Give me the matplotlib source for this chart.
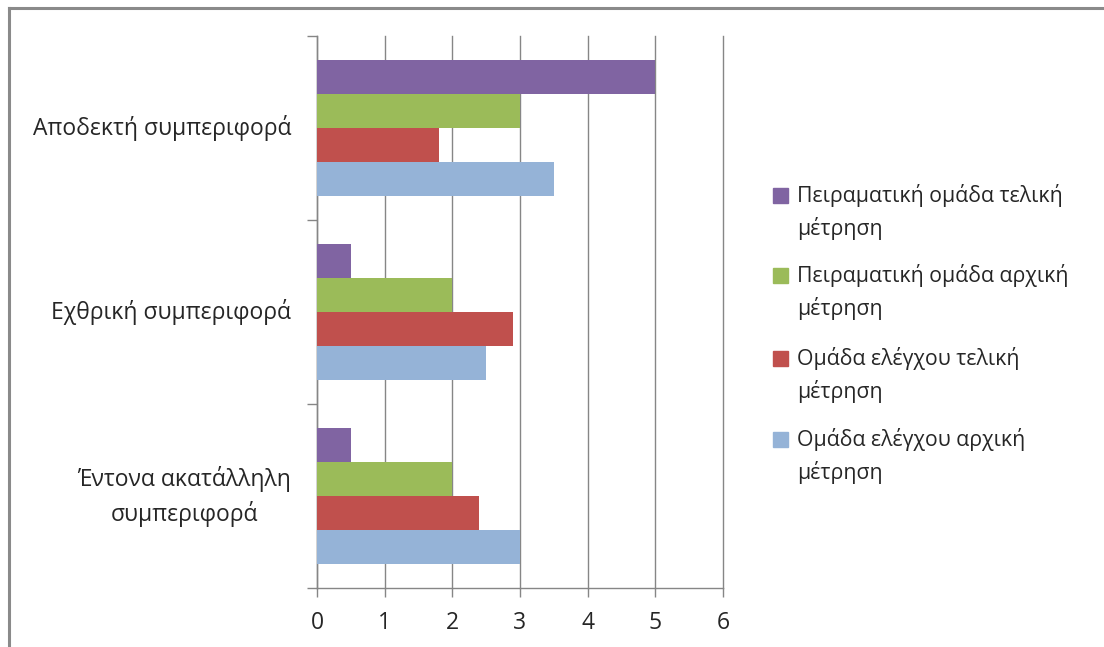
import matplotlib
matplotlib.use("Agg")
import matplotlib.pyplot as plt
from matplotlib.patches import Rectangle
from matplotlib.lines import Line2D
import numpy as np

plt.rcParams['font.family'] = ['Open Sans', 'DejaVu Sans']

categories = ["Αποδεκτή συμπεριφορά", "Εχθρική συμπεριφορά", "Έντονα ακατάλληλη\nσυμπεριφορά"]
series_names = [
    "Πειραματική ομάδα τελική\nμέτρηση",
    "Πειραματική ομάδα αρχική\nμέτρηση",
    "Ομάδα ελέγχου τελική\nμέτρηση",
    "Ομάδα ελέγχου αρχική\nμέτρηση",
]
exp_final = [5.0, 0.5, 0.5]
exp_initial = [3.0, 2.0, 2.0]
ctrl_final = [1.8, 2.9, 2.4]
ctrl_initial = [3.5, 2.5, 3.0]
series_values = [exp_final, exp_initial, ctrl_final, ctrl_initial]
colors = ["#8064A2", "#9BBB59", "#C0504D", "#95B3D7"]
x_ticks = [0, 1, 2, 3, 4, 5, 6]

W, H = 1104, 647
fig = plt.figure(figsize=(W / 100, H / 100), dpi=100)
ax = fig.add_axes([317 / W, 1 - 588 / H, (723 - 317) / W, (588 - 36) / H])

n = len(series_values)
h = 0.185
y = np.arange(len(categories))
for i, (vals, c) in enumerate(zip(series_values, colors)):
    ax.barh(y + (i - (n - 1) / 2) * h, vals, height=h, color=c, zorder=3)

ax.set_xlim(0, 6)
ax.set_ylim(len(categories) - 0.5, -0.5)
ax.set_xticks(x_ticks)
ax.set_xticklabels([str(t) for t in x_ticks])
grid_c = "#868686"
ax.grid(axis='x', color=grid_c, linewidth=1.0, zorder=0)
for gl in ax.get_xgridlines():
    gl.set_clip_on(False)
ax.set_axisbelow(True)

txt_c = '#262626'
ax.set_yticks(np.arange(-0.5, len(categories)), labels=[])
ax.set_yticks(y, labels=categories, minor=True)
ax.tick_params(axis='y', which='major', length=7, color=grid_c, width=1)
ax.tick_params(axis='y', which='minor', length=0, pad=18.5, labelsize=16.5, labelcolor=txt_c)
for lab in ax.get_yticklabels(minor=True):
    lab.set_multialignment('center')
    lab.set_linespacing(1.45)
    lab.set_verticalalignment('center')
ax.tick_params(axis='x', length=6.5, color=grid_c, width=1, pad=10, labelsize=16.5, labelcolor=txt_c)

for s in ['top', 'right']:
    ax.spines[s].set_visible(False)
for s in ['left', 'bottom']:
    ax.spines[s].set_color(grid_c)
    ax.spines[s].set_linewidth(1.0)

# manual legend (figure coordinates in pixels)
leg_base = [203, 283, 366, 447]
line_gap = 32
for name, c, by in zip(series_names, colors, leg_base):
    fig.patches.append(Rectangle((773 / W, 1 - by / H), 15 / W, 15 / H,
                                 transform=fig.transFigure, color=c))
    fig.text(797 / W, 1 - (by + line_gap) / H, name, fontsize=15.3, color=txt_c,
             va='baseline', ha='left', linespacing=1.58)

# outer border (top and left)
fig.lines.append(Line2D([9 / W, 1], [1 - 8 / H, 1 - 8 / H], transform=fig.transFigure,
                        color="#8a8a8a", linewidth=2.2))
fig.lines.append(Line2D([9 / W, 9 / W], [0, 1 - 8 / H], transform=fig.transFigure,
                        color="#8a8a8a", linewidth=2.2))

fig.savefig("out.png", dpi=100)
